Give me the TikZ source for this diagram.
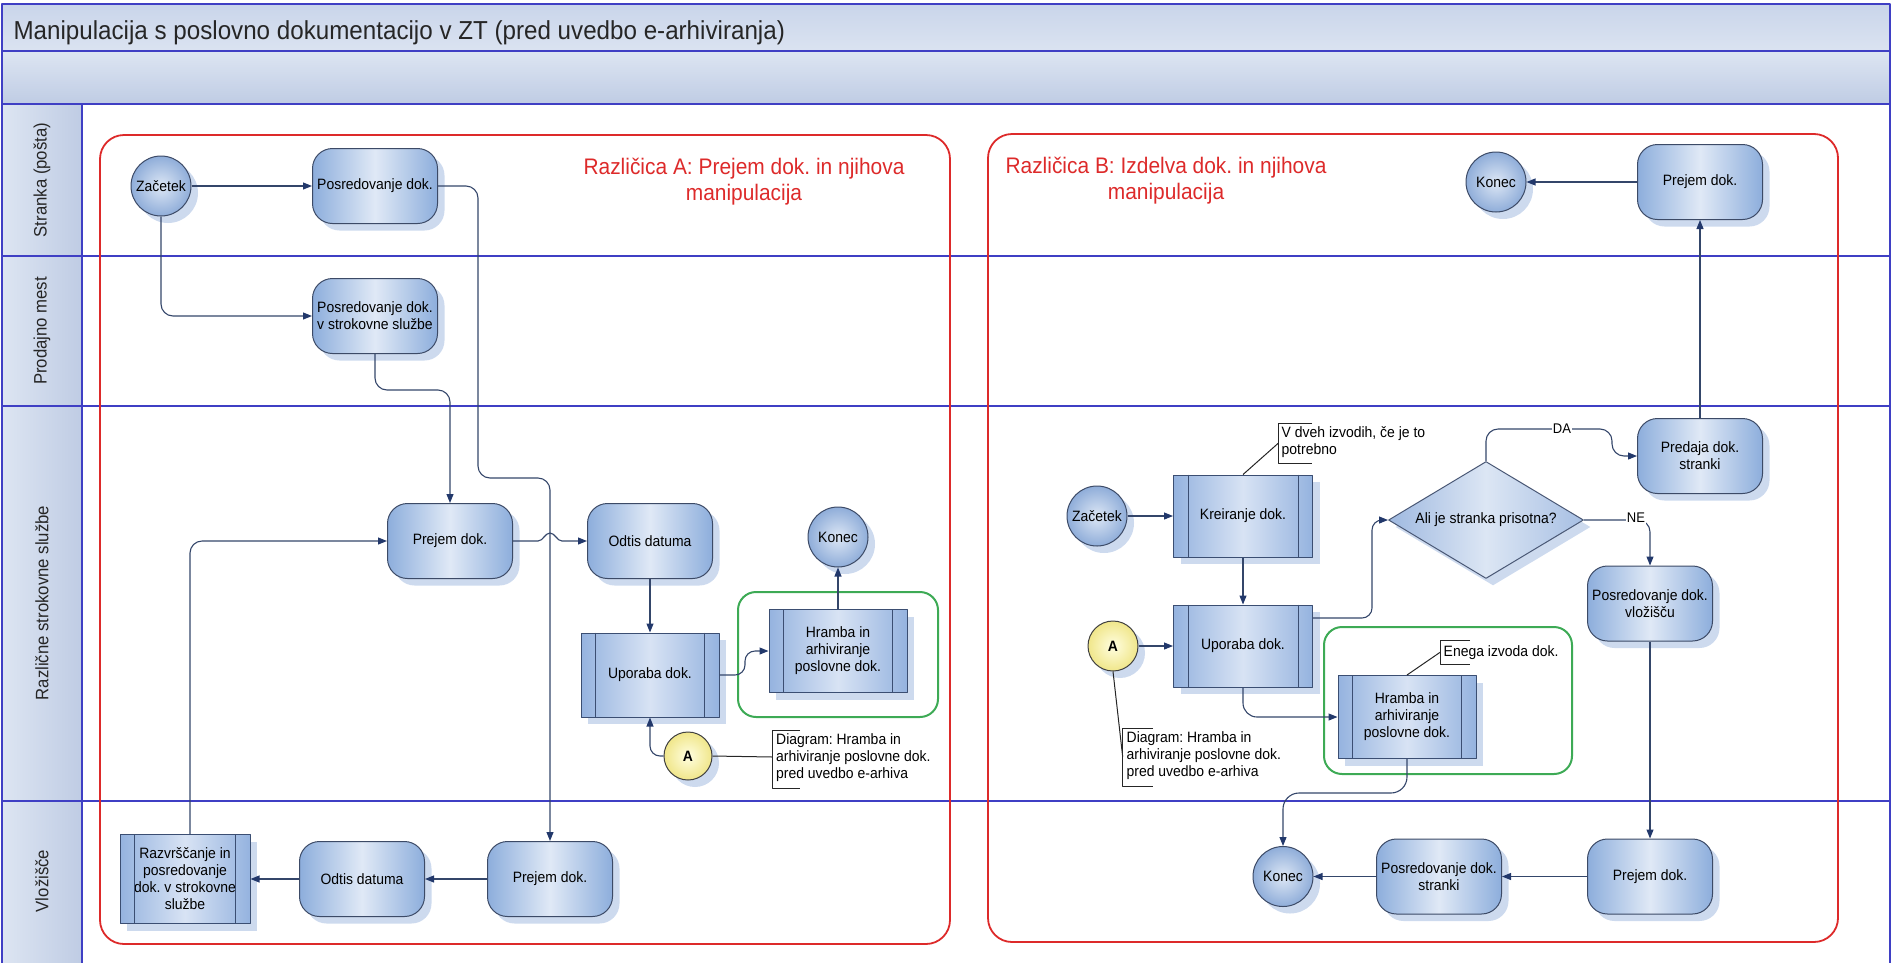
\documentclass[tikz,border=0pt]{standalone}
\usepackage{fontspec}
\setmainfont{Liberation Sans}[FakeStretch=0.93]
\usetikzlibrary{arrows.meta,shapes.geometric,calc}
\frenchspacing

\definecolor{lanec}{HTML}{3F3FC4}
\definecolor{titletop}{HTML}{C9D5EA}
\definecolor{titlebot}{HTML}{DBE3F1}
\definecolor{bandtop}{HTML}{DDE5F2}
\definecolor{bandbot}{HTML}{BFCCE4}
\definecolor{boxline}{HTML}{3C4A66}
\definecolor{boxedge}{HTML}{8DAEDC}
\definecolor{boxmid}{HTML}{E0E9F6}
\definecolor{subline}{HTML}{3B4E72}
\definecolor{subedge}{HTML}{95B3DF}
\definecolor{submid}{HTML}{D8E3F4}
\definecolor{circedge}{HTML}{8FADD9}
\definecolor{circmid}{HTML}{DDE7F5}
\definecolor{shadowc}{HTML}{CDDAEE}
\definecolor{linec}{HTML}{34466A}
\definecolor{arrowc}{HTML}{22386B}
\definecolor{redc}{HTML}{DD2A2A}
\definecolor{greenc}{HTML}{3DAA55}
\definecolor{yelmid}{HTML}{FFFEE0}
\definecolor{yeledge}{HTML}{F0E68A}
\definecolor{dialeft}{HTML}{9FB9E0}
\definecolor{diaright}{HTML}{A7BFE3}
\definecolor{diamid}{HTML}{DCE6F4}
\definecolor{dialine}{HTML}{4A5875}

\newcommand\txtnode{\fontsize{15}{17}\selectfont}
\newcommand\txttitle{\fontsize{26}{30}\selectfont}
\newcommand\txtred{\fontsize{22.5}{26}\selectfont}
\newcommand\txtlane{\fontsize{18}{20}\selectfont}
\newcommand\txtsmall{\fontsize{14}{16}\selectfont}

\begin{document}
\begin{tikzpicture}[x=1pt,y=-1pt,line join=round,
  shadowed/.style={preaction={fill=shadowc, transform canvas={shift={(7pt,-7pt)}}}},
  procbox/.style={shadowed, rectangle, rounded corners=20pt, draw=boxline, line width=1pt,
    minimum width=125pt, minimum height=75pt, left color=boxedge, right color=boxedge,
    middle color=boxmid, align=center, font=\txtnode, inner sep=1pt},
  subbox/.style={shadowed, rectangle, draw=subline, line width=1pt,
    minimum width=138pt, minimum height=83pt, left color=subedge, right color=subedge,
    middle color=submid, align=center, font=\txtnode, inner sep=1pt},
  term/.style={shadowed, circle, minimum size=60pt, inner sep=0pt, draw=boxline, line width=1pt,
    inner color=circmid, outer color=circedge, font=\txtnode},
  conn/.style={draw=linec, line width=1.1pt, rounded corners=12pt},
  arr/.style={conn, -{Triangle[length=9pt,width=7pt,color=arrowc]}},
  brk/.style={draw=black!85, line width=1pt},
  anno/.style={font=\txtnode, align=left, inner sep=0pt, anchor=west},
  lbl/.style={fill=white, inner sep=1pt, font=\txtsmall},
  lane/.style={draw=lanec, line width=1.5pt},
  redbox/.style={draw=redc, line width=1.8pt, rounded corners=24pt},
  greenbox/.style={draw=greenc, line width=2pt, rounded corners=18pt},
  lanelbl/.style={rotate=90, font=\txtlane, text=black!85}
]
\useasboundingbox (0,0) rectangle (1892,962);

% ---------- pool header and lanes ----------
\fill[top color=titletop, bottom color=titlebot] (2,4) rectangle (1890,51);
\fill[top color=bandtop, bottom color=bandbot] (2,51) rectangle (1890,104);
\fill[left color=bandtop, right color=bandbot] (2,104) rectangle (82,963);
\draw[lane] (2,963) -- (2,4) -- (1890,4) -- (1890,963);
\draw[lane] (2,51) -- (1890,51);
\draw[lane] (2,104) -- (1890,104);
\draw[lane] (82,104) -- (82,963);
\draw[lane] (2,256) -- (1890,256);
\draw[lane] (2,406) -- (1890,406);
\draw[lane] (2,801) -- (1890,801);

\node[anchor=west, font=\txttitle, text=black!85] (title) at (10,33)
  {Manipulacija s poslovno dokumentacijo v ZT (pred uvedbo e-arhiviranja)};

\node[lanelbl] (l1) at (42,180) {Stranka (pošta)};
\node[lanelbl] (l2) at (42,331) {Prodajno mest};
\node[lanelbl] (l3) at (42,603) {Različne strokovne službe};
\node[lanelbl] (l4) at (42,881) {Vložišče};

% ---------- variant frames ----------
\draw[redbox] (100,135) rectangle (950,944);
\draw[redbox] (988,134) rectangle (1838,942);
\node[font=\txtred, text=redc, align=center] (tA) at (744,182)
  {Različica A: Prejem dok. in njihova\\manipulacija};
\node[font=\txtred, text=redc, align=center] (tB) at (1166,181)
  {Različica B: Izdelva dok. in njihova\\manipulacija};

\draw[greenbox] (738,592) rectangle (938,717);
\draw[greenbox] (1324,627) rectangle (1572,774);

% ---------- variant A ----------
\node[term] (cA1) at (161,186) {Začetek};
\node[procbox] (pA1) at (375,186) {Posredovanje dok.};
\node[procbox] (pA2) at (375,316) {Posredovanje dok.\\v strokovne službe};
\node[procbox] (pA3) at (450,541) {Prejem dok.};
\node[procbox] (pA4) at (650,541) {Odtis datuma};
\node[term] (cA2) at (838,537) {Konec};
\node[subbox, minimum height=84pt] (sA1) at (650,675) {Uporaba dok.};
\node[subbox] (sA2) at (838,651) {Hramba in\\arhiviranje\\poslovne dok.};
\node[shadowed, circle, minimum size=48pt, inner sep=0pt, draw=black!75, line width=1pt,
  inner color=yelmid, outer color=yeledge, font=\txtnode\bfseries] (aA) at (688,756) {A};
\node[subbox, minimum width=130pt, minimum height=89pt] (sA3) at (185,879)
  {Razvrščanje in\\posredovanje\\dok. v strokovne\\službe};
\node[procbox] (pA6) at (362,879) {Odtis datuma};
\node[procbox] (pA5) at (550,879) {Prejem dok.};

\node[anno] (annA) at (776,757.7) {Diagram: Hramba in\\arhiviranje poslovne dok.\\pred uvedbo e-arhiva};
\draw[brk] (800,730) -- (772.5,730) -- (772.5,788) -- (800,788);
\coordinate (annAm) at (772.5,757);

% ---------- variant B ----------
\node[term] (cB1) at (1496,182) {Konec};
\node[procbox] (pB1) at (1700,182) {Prejem dok.};
\node[term] (cB2) at (1097,516) {Začetek};
\node[subbox, minimum width=139pt, minimum height=82pt] (sB1) at (1243,516) {Kreiranje dok.};
\node[subbox, minimum width=139pt, minimum height=82pt] (sB2) at (1243,646) {Uporaba dok.};
\node[shadowed, circle, minimum size=50pt, inner sep=0pt, draw=black!75, line width=1pt,
  inner color=yelmid, outer color=yeledge, font=\txtnode\bfseries] (aB) at (1113,646) {A};
\node[shadowed, diamond, aspect=1.667, minimum width=195pt, minimum height=117pt, inner sep=0pt,
  draw=dialine, line width=1pt, left color=dialeft, right color=diaright, middle color=diamid,
  font=\txtnode] (dia) at (1486,520) {Ali je stranka prisotna?};
\node[procbox] (pB2) at (1700,456) {Predaja dok.\\stranki};
\node[procbox] (pB3) at (1650,603.5) {Posredovanje dok.\\vložišču};
\node[subbox] (sB3) at (1407,717) {Hramba in\\arhiviranje\\poslovne dok.};
\node[term] (cB3) at (1283,876.5) {Konec};
\node[procbox] (pB5) at (1439,876.5) {Posredovanje dok.\\stranki};
\node[procbox] (pB4) at (1650,876.5) {Prejem dok.};

\node[anno] (annB1) at (1281.5,442) {V dveh izvodih, če je to\\potrebno};
\draw[brk] (1312,423) -- (1278.5,423) -- (1278.5,463) -- (1312,463);
\coordinate (annB1m) at (1278.5,443);
\node[anno] (annB2) at (1443.5,652.3) {Enega izvoda dok.};
\draw[brk] (1470,640) -- (1440.5,640) -- (1440.5,664) -- (1470,664);
\coordinate (annB2m) at (1440.5,652);
\node[anno] (annB3) at (1126.5,756) {Diagram: Hramba in\\arhiviranje poslovne dok.\\pred uvedbo e-arhiva};
\draw[brk] (1153,728.3) -- (1122.7,728.3) -- (1122.7,786) -- (1153,786);
\coordinate (annB3m) at (1122.7,757);

% subprocess side bars
\foreach \n in {sA1,sA2,sA3,sB1,sB2,sB3}{
  \draw[draw=subline, line width=1pt]
    ([xshift=15pt]\n.north west) -- ([xshift=15pt]\n.south west)
    ([xshift=-15pt]\n.north east) -- ([xshift=-15pt]\n.south east);
}

% ---------- connectors, variant A ----------
\draw[arr] (cA1.east) -- (pA1.west);
\draw[arr] (cA1.south) |- (pA2.west);
\draw[arr] (pA1.east) -- (478,186) -- (478,478) -- (550,478) -- (pA5.north);
\draw[arr] (pA2.south) -- (375,390) -- (450,390) -- (pA3.north);
\draw[arr, rounded corners=0pt] (pA3.east) -- (538,541)
  .. controls (543,541) and (545,533) .. (550,533)
  .. controls (555,533) and (557,541) .. (562,541) -- (pA4.west);
\draw[arr] (pA4.south) -- (sA1.north);
\draw[arr, rounded corners=10pt] (sA1.east) -- (745,675) -- (745,651) -- (sA2.west);
\draw[arr] (sA2.north) -- (cA2.south);
\draw[arr, rounded corners=10pt] (aA.west) -| (sA1.south);
\draw[brk] (aA.east) -- (annAm);
\draw[arr] ([xshift=5pt]sA3.north) |- (pA3.west);
\draw[arr] (pA5.west) -- (pA6.east);
\draw[arr] (pA6.west) -- (sA3.east);

% ---------- connectors, variant B ----------
\draw[arr] (cB2.east) -- (sB1.west);
\draw[arr] (sB1.south) -- (sB2.north);
\draw[arr] (aB.east) -- (sB2.west);
\draw[brk] (aB.south) -- (annB3m);
\draw[brk] (annB1m) -- (sB1.north);
\draw[brk] (annB2m) -- (sB3.north);
\draw[arr, rounded corners=10pt] ([yshift=28pt]sB2.east) -- (1372,618) -- (1372,520) -- (dia.west);
\draw[arr] (dia.north) -- (1486,429) -- (1612,429) -- (1612,456) -- (pB2.west);
\draw[arr] (dia.east) -| (pB3.north);
\node[lbl] (da) at (1562,429) {DA};
\node[lbl] (ne) at (1636,518) {NE};
\draw[arr] (pB2.north) -- (pB1.south);
\draw[arr] (pB1.west) -- (cB1.east);
\draw[arr, rounded corners=14pt] (sB2.south) |- (sB3.west);
\draw[arr, rounded corners=16pt] (sB3.south) -- (1407,793) -- (1283,793) -- (cB3.north);
\draw[arr] (pB3.south) -- (pB4.north);
\draw[arr] (pB4.west) -- (pB5.east);
\draw[arr] (pB5.west) -- (cB3.east);
\end{tikzpicture}
\end{document}
